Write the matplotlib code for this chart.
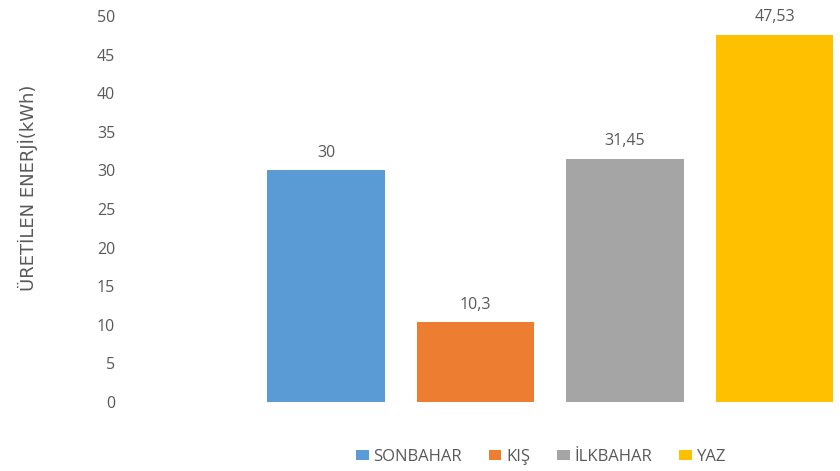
import matplotlib
matplotlib.use("Agg")
import matplotlib.pyplot as plt

categories = ["SONBAHAR", "KIŞ", "İLKBAHAR", "YAZ"]
values = [30, 10.3, 31.45, 47.53]
labels = ["30", "10,3", "31,45", "47,53"]
colors = ["#5B9BD5", "#ED7D31", "#A5A5A5", "#FFC000"]
yticks = [0, 5, 10, 15, 20, 25, 30, 35, 40, 45, 50]

plt.rcParams['font.family'] = ['Open Sans', 'DejaVu Sans']
txt = "#595959"

fig = plt.figure(figsize=(8.4, 4.71), dpi=100)
ax = fig.add_axes([125/840, 1 - 402/471, 715/840, 386/471])

for i, (c, v, lab, col) in enumerate(zip(categories, values, labels, colors)):
    ax.bar(i, v, width=0.785, color=col, label=c)
    ax.annotate(lab, (i, v), xytext=(0, 7), textcoords="offset points",
                ha="center", va="bottom", fontsize=11.5, color=txt)

ax.set_xlim(-1.344, 3.438)
ax.set_ylim(0, 50)
ax.set_yticks(yticks)
ax.set_yticklabels([str(t) for t in yticks], fontsize=11.5, color=txt)
ax.tick_params(axis="y", length=0, pad=7)
ax.set_xticks([])
for s in ax.spines.values():
    s.set_visible(False)

fig.text(28/840, 1 - 188/471, "ÜRETİLEN ENERJİ(kWh)", rotation=90, ha="center",
         va="center", fontsize=13, color=txt,
         family=['Liberation Sans Narrow', 'DejaVu Sans'])

leg = fig.legend(loc="center", bbox_to_anchor=(541/840, 1 - 457/471), ncol=4,
                 frameon=False, fontsize=12, handlelength=0.75, handleheight=0.6,
                 columnspacing=1.6, handletextpad=0.3)
for t in leg.get_texts():
    t.set_color(txt)

fig.savefig("out.png", dpi=100)
